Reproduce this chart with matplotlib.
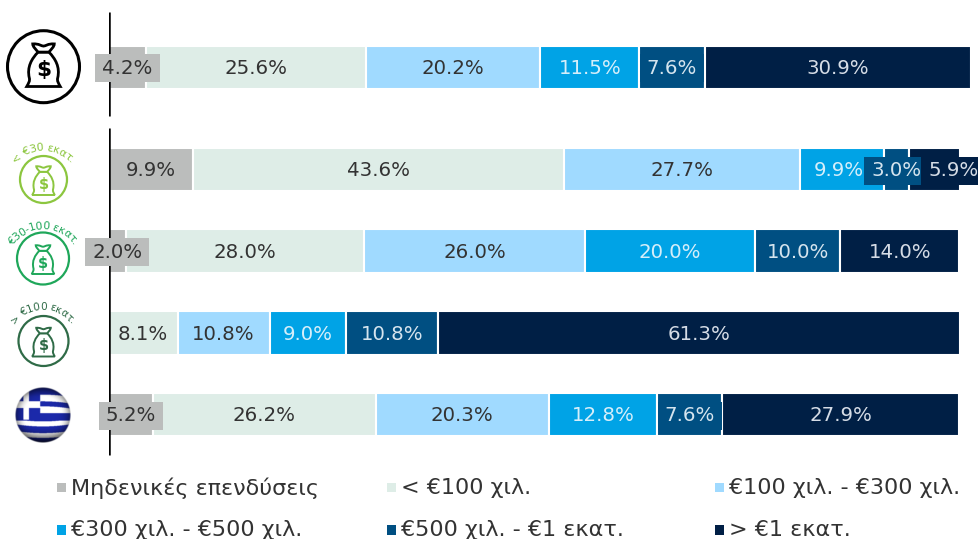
import numpy as np
import matplotlib
matplotlib.use("Agg")
import matplotlib.pyplot as plt
from matplotlib.patches import Circle, PathPatch, Rectangle
from matplotlib.path import Path
from matplotlib.textpath import TextPath
from matplotlib.font_manager import FontProperties

series_names = ["Μηδενικές επενδύσεις", "< €100 χιλ.", "€100 χιλ. - €300 χιλ.",
                "€300 χιλ. - €500 χιλ.", "€500 χιλ. - €1 εκατ.", "> €1 εκατ."]
colors = ["#BBBDBC", "#DEEDE7", "#A0DAFF", "#00A3E6", "#004F82", "#001F45"]
text_colors = ["#333333", "#333333", "#333333", "#D5EEFA", "#D5E4EE", "#D5DCE6"]

zero = [4.2, 9.9, 2.0, 0.0, 5.2]
lt100 = [25.6, 43.6, 28.0, 8.1, 26.2]
k100_300 = [20.2, 27.7, 26.0, 10.8, 20.3]
k300_500 = [11.5, 9.9, 20.0, 9.0, 12.8]
k500_1m = [7.6, 3.0, 10.0, 10.8, 7.6]
gt1m = [30.9, 5.9, 14.0, 61.3, 27.9]
values = [zero, lt100, k100_300, k300_500, k500_1m, gt1m]

W, H = 979, 539
row_y = [67.3, 169.5, 251.2, 333, 414.5]
bar_h = 43.5


def data_axes(x0, x1):
    a = fig.add_axes([x0 / W, 0, (x1 - x0) / W, 1])
    a.set_xlim(0, 100)
    a.set_ylim(H, 0)
    a.axis("off")
    return a


def label_box(x0, y0, w, h, mutation_size):
    """Rectangle about 7 px wider on each side, fixed 28 px high (at dpi 100)."""
    cy = y0 + h / 2
    l, r, b, t = x0 - 7, x0 + w + 7, cy - 14, cy + 14
    return Path([(l, b), (r, b), (r, t), (l, t), (l, b)],
                [Path.MOVETO, Path.LINETO, Path.LINETO, Path.LINETO, Path.CLOSEPOLY])


fig = plt.figure(figsize=(W / 100, H / 100), dpi=100)
ax_top = data_axes(109.5, 971)
ax = data_axes(108.7, 959.5)

ov = fig.add_axes([0, 0, 1, 1], zorder=5)
ov.set_xlim(0, W)
ov.set_ylim(H, 0)
ov.axis("off")
ov.patch.set_alpha(0)

left = np.zeros(5)
for s, vals in enumerate(values):
    v = np.array(vals)
    for r, val in enumerate(vals):
        a = ax_top if r == 0 else ax
        if val == 0:
            continue
        a.barh(row_y[r], val, left=left[r], height=bar_h, color=colors[s],
               edgecolor="white", linewidth=1.5, zorder=2)
        cx = left[r] + val / 2
        if (r, s) == (1, 5):
            cx += 2.25
        if (r, s) == (1, 3):
            cx -= 0.35
        a.text(cx, row_y[r] + 1.0, f"{val:.1f}%", ha="center", va="center",
               fontsize=14.2, color=text_colors[s], zorder=3 + s * 0.1, clip_on=False,
               family="DejaVu Sans", bbox=dict(boxstyle=label_box, fc=colors[s], ec="none"))
    left += v

ax_top.plot([0, 0], [12, 116], color="black", lw=1.8, zorder=2.5, solid_capstyle="butt")
ax.plot([0, 0], [128, 455], color="black", lw=1.8, zorder=2.5, solid_capstyle="butt")


def bag(a, cx, cy, s, color, lw):
    """Money bag icon, s = half height of the bag in pixels."""
    def P(x, y):
        return (cx + x * s, cy + y * s)
    M, C, L, Z = Path.MOVETO, Path.CURVE4, Path.LINETO, Path.CLOSEPOLY
    verts = [P(-0.25, -0.6), P(-0.55, -0.3), P(-0.78, 0.1), P(-0.66, 0.6),
             P(-0.62, 0.75), P(-0.7, 0.85), P(-0.78, 1.0),
             P(0.78, 1.0),
             P(0.7, 0.85), P(0.62, 0.75), P(0.66, 0.6),
             P(0.78, 0.1), P(0.55, -0.3), P(0.25, -0.6), P(-0.25, -0.6)]
    codes = [M, C, C, C, C, C, C, L, C, C, C, C, C, C, Z]
    a.add_patch(PathPatch(Path(verts, codes), fc="white", ec=color, lw=lw, zorder=6))
    verts2 = [P(-0.25, -0.6), P(-0.35, -0.72), P(-0.5, -0.85), P(-0.5, -0.98),
              P(-0.2, -1.0), P(-0.1, -0.88), P(0, -0.88),
              P(0.1, -0.88), P(0.2, -1.0), P(0.5, -0.98),
              P(0.5, -0.85), P(0.35, -0.72), P(0.25, -0.6), P(-0.25, -0.6)]
    codes2 = [M, C, C, C, C, C, C, C, C, C, C, C, C, Z]
    a.add_patch(PathPatch(Path(verts2, codes2), fc="white", ec=color, lw=lw, zorder=6))
    a.text(cx, cy + 0.25 * s, "$", ha="center", va="center", color=color,
           fontsize=s * 0.72, fontweight="bold", zorder=7, family="DejaVu Sans")


def arc_text(a, cx, cy, r, text, color, size):
    fp = FontProperties(family="DejaVu Sans", size=size)
    px = size * 100 / 72
    adv = []
    for ch in text:
        tp = TextPath((0, 0), "n" + ch + "n", size=px, prop=fp)
        base = TextPath((0, 0), "nn", size=px, prop=fp)
        adv.append(tp.get_extents().width - base.get_extents().width)
    adv = np.array(adv)
    mid = np.cumsum(adv) - adv / 2 - adv.sum() / 2
    for ch, m in zip(text, mid):
        th = m / r
        x = cx + r * np.sin(th)
        y = cy - r * np.cos(th)
        a.text(x, y, ch, rotation=-np.degrees(th), ha="center", va="center", color=color,
               fontsize=size, rotation_mode="anchor", family="DejaVu Sans", zorder=7)


ov.add_patch(Circle((43.5, 66.7), 36, fc="white", ec="black", lw=2.2, zorder=5))
bag(ov, 43.5, 65, 21.5, "black", 2.0)

icons = [((43.5, 179.5), 23.5, "#8CC63F", "< €30 εκατ.", (43, 187), 39, 8.0),
         ((43, 258.5), 26, "#1FA75A", "€30-100 εκατ.", (43, 264), 38, 7.8),
         ((43.5, 341), 25, "#2F6B47", "> €100 εκατ.", (43, 345), 38, 7.6)]
for (c, rad, col, lab, ac, ar, fs) in icons:
    ov.add_patch(Circle(c, rad, fc="white", ec=col, lw=1.6, zorder=5))
    bag(ov, c[0], c[1] + 1, 14.5, col, 1.4)
    arc_text(ov, ac[0], ac[1], ar, lab, col, fs)

# Greek flag sphere
n = 240
yy, xx = np.mgrid[-1:1:n * 1j, -1:1:n * 1j]
rr = np.sqrt(xx ** 2 + yy ** 2)
blue = np.array([0.10, 0.15, 0.62])
white = np.array([1.0, 1.0, 1.0])
edges = [-0.73, -0.49, -0.31, -0.07, 0.23, 0.41, 0.65, 0.82]
v = yy + 0.08 * xx ** 2 * (yy > 0.2) - 0.08 * xx ** 2 * (yy < -0.2)
stripe = np.digitize(v, edges) % 2
img = np.where(stripe[..., None] == 0, blue, white)
canton = (xx < -0.1) & (yy < 0.17)
img[canton] = blue
cross = canton & (((xx > -0.70) & (xx < -0.50)) | ((yy > -0.49) & (yy < -0.25)))
img[cross] = white
shade = np.clip(1.08 - 0.55 * rr ** 5, 0.2, 1.1)
shade *= np.clip(1.2 - 0.9 * np.clip(yy, 0.35, 1) ** 2, 0.2, 1)
shade *= np.clip(1.1 + 0.9 * np.minimum(yy + 0.55, 0), 0.3, 1)
img = np.clip(img * shade[..., None], 0, 1)
alpha = np.clip((1 - rr) * 30, 0, 1)
rgba = np.dstack([img, alpha])
ov.imshow(rgba, extent=(15, 71, 443, 387), zorder=6, aspect="auto",
          interpolation="bilinear")
ov.set_xlim(0, W)
ov.set_ylim(H, 0)

leg_x = [57, 387, 715]
leg_y = [488, 530.5]
for i, name in enumerate(series_names):
    x = leg_x[i % 3]
    y = leg_y[i // 3]
    ov.add_patch(Rectangle((x, y - 5.5), 9.5, 9.5, fc=colors[i], ec="none", zorder=6))
    ov.text(x + 14.5, y, name, ha="left", va="center", fontsize=16, color="#333333",
            family="DejaVu Sans", zorder=6)

fig.savefig("out.png", dpi=100)
